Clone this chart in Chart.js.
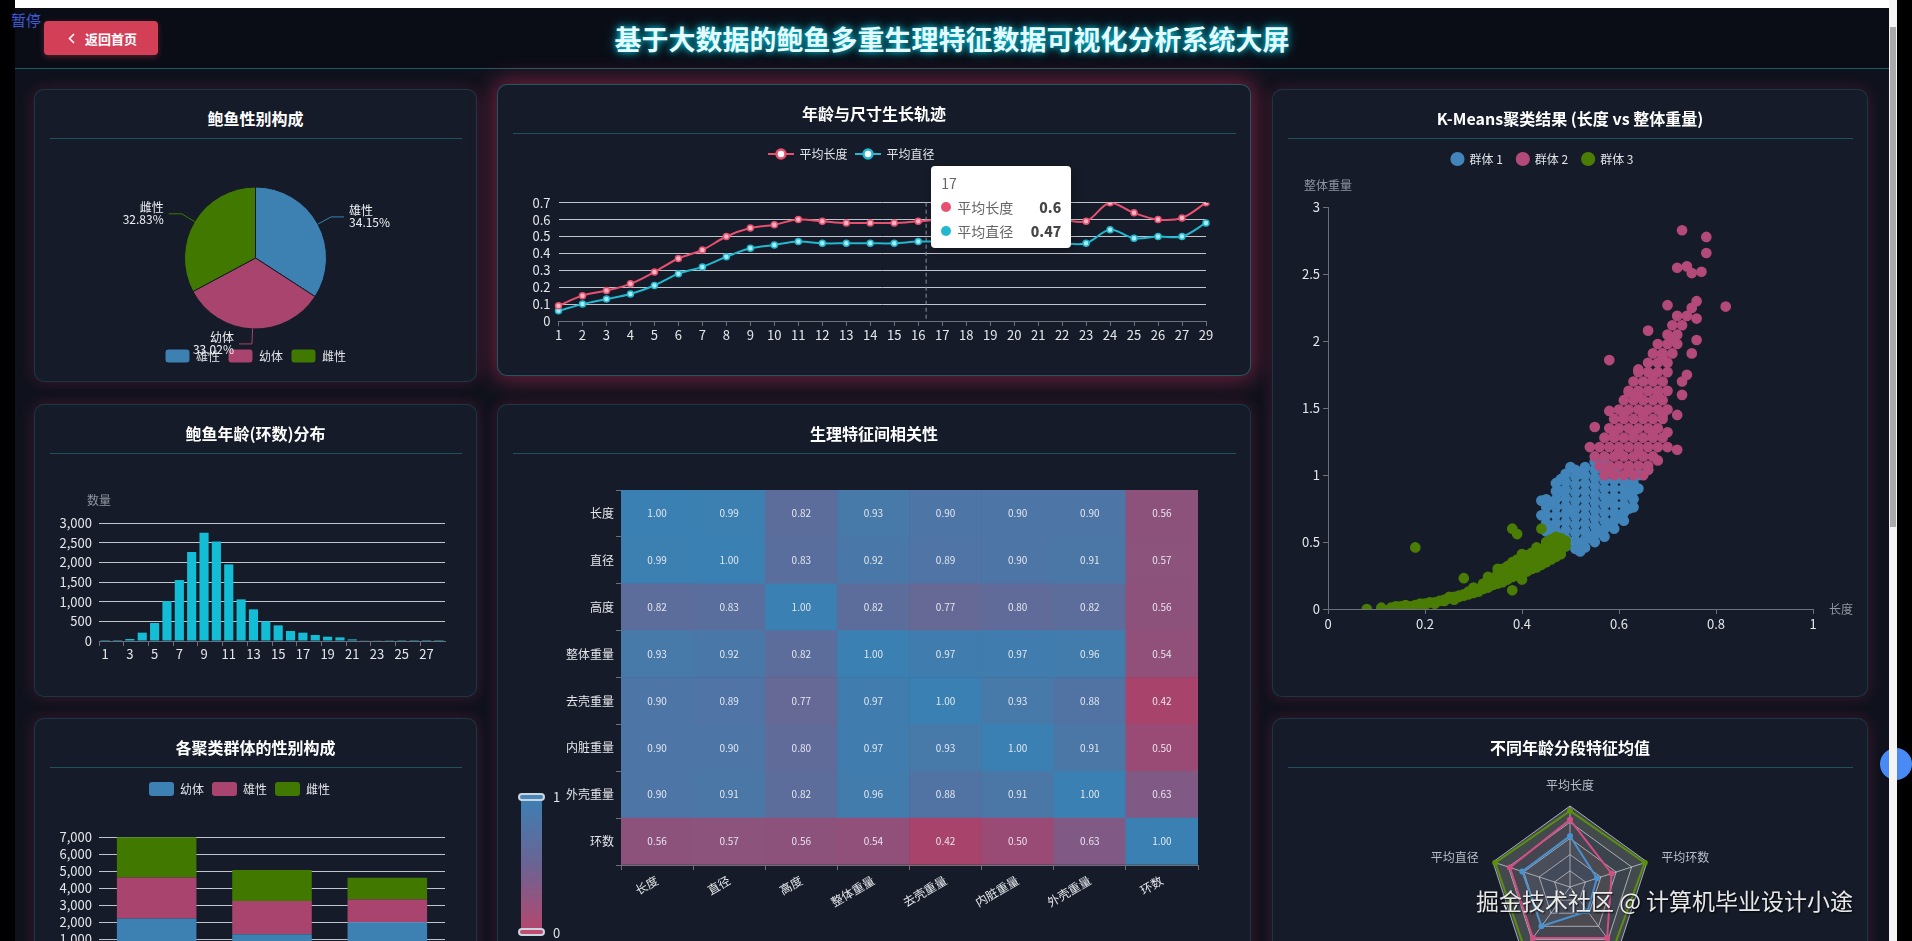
<!DOCTYPE html>
<html lang="zh-CN">
<head>
<meta charset="utf-8">
<title>基于大数据的鲍鱼多重生理特征数据可视化分析系统大屏</title>
<script src="https://cdn.jsdelivr.net/npm/chart.js"></script>
<style>
  html, body { margin: 0; padding: 0; }
  body {
    width: 1912px; height: 941px; overflow: hidden; position: relative;
    background: #000;
    font-family: "Noto Sans CJK SC", "Noto Sans", sans-serif;
  }
  #topstrip { position: absolute; left: 15px; top: 0; width: 1874px; height: 8px; background: #fff; }
  #screen { position: absolute; left: 15px; top: 8px; width: 1874px; height: 933px; background: #0f121c; }
  #header {
    position: absolute; left: 15px; top: 8px; width: 1874px; height: 60px;
    background: #0a0d16; border-bottom: 1px solid #1d5a66;
  }
  #header h1 {
    margin: 0; position: absolute; left: 0; right: 0; top: 15px;
    text-align: center; font-size: 27px; line-height: 32px; font-weight: 700;
    color: #e6fbff;
    text-shadow: 0 0 6px rgba(0, 229, 255, 0.9), 0 0 14px rgba(0, 229, 255, 0.45);
  }
  #back {
    position: absolute; left: 44px; top: 21px; width: 114px; height: 34px;
    box-sizing: border-box; padding-left: 24px;
    background: #d43f58; border-radius: 4px;
    display: flex; align-items: center; gap: 10px;
    color: #fff; font-size: 13px; font-weight: 700;
    box-shadow: 0 2px 6px rgba(212, 63, 88, 0.35);
  }
  #pause { position: absolute; left: 11px; top: 9px; color: #3b5bd6; font-size: 15px; z-index: 5; }

  .panel {
    position: absolute; box-sizing: border-box;
    background: #151b28;
    border: 1px solid rgba(70, 200, 220, 0.16);
    border-radius: 10px;
    box-shadow: 0 0 14px 1px rgba(180, 40, 95, 0.25);
  }
  .panel.hover {
    border-color: rgba(80, 220, 230, 0.3);
    box-shadow: 0 0 22px 5px rgba(225, 50, 100, 0.42);
  }
  .panel .ttl {
    position: absolute; left: 0; right: 0; top: 17px;
    text-align: center; color: #fff; font-size: 16px; font-weight: 700; line-height: 22px;
  }
  .panel .rule {
    position: absolute; left: 15px; right: 14px; top: 48px; height: 1px;
    background: rgba(45, 170, 180, 0.38);
  }
  .panel canvas { position: absolute; left: -1px; top: 49px; }

  #lineTip {
    position: absolute; width: 140px; height: 82px; box-sizing: border-box;
    background: #fff; border-radius: 4px; padding: 5px 10px 0 10px;
    box-shadow: 1px 2px 10px rgba(0, 0, 0, 0.25); z-index: 4;
    font-size: 14px; color: #666;
  }
  #lineTip .t { line-height: 24px; }
  #lineTip .row { display: flex; align-items: center; line-height: 24px; }
  #lineTip .dot { width: 10px; height: 10px; border-radius: 50%; margin-right: 6px; }
  #lineTip .v { margin-left: auto; font-weight: 900; color: #464646; }

  #vmBar {
    position: absolute; left: 521px; top: 797px; width: 21px; height: 134px;
    background: linear-gradient(to bottom, #3c80b3, #6a6494 50%, #b5476e);
  }
  .vmHandle {
    position: absolute; left: 518px; width: 27px; height: 8px; box-sizing: border-box;
    border: 2px solid #c9d6e2; border-radius: 5px;
  }
  .vmText { position: absolute; left: 553px; color: #e2e4ea; font-size: 13px; line-height: 14px; }

  #watermark {
    position: absolute; left: 1476px; top: 885px; font-size: 23px; line-height: 30px;
    color: rgba(255, 255, 255, 0.9); text-shadow: 1px 1px 2px rgba(0, 0, 0, 0.9); white-space: nowrap; z-index: 6;
  }
  #sideBtn {
    position: absolute; left: 1880px; top: 748px; width: 32px; height: 32px; border-radius: 50%;
    background: #4a8af4; z-index: 6;
  }
  #scroll { position: absolute; left: 1889px; top: 0; width: 8px; height: 941px; background: #f4f4f4; z-index: 7; }
  #thumb { position: absolute; left: 1890px; top: 27px; width: 6px; height: 500px; background: #a9a9a9; z-index: 8; }
</style>
</head>
<body>
<div id="screen"></div>
<div id="topstrip"></div>
<div id="header">
  <h1>基于大数据的鲍鱼多重生理特征数据可视化分析系统大屏</h1>
</div>
<div id="back"><svg width="7" height="11" viewBox="0 0 7 11"><polyline points="6,1 1.5,5.5 6,10" fill="none" stroke="#fff" stroke-width="1.6"/></svg><span>返回首页</span></div>
<div id="pause">暂停</div>

<div class="panel" style="left:34px; top:89px; width:443px; height:293px;">
  <div class="ttl">鲍鱼性别构成</div><div class="rule"></div>
  <canvas id="pieChart" width="443" height="243"></canvas>
</div>

<div class="panel hover" style="left:497px; top:84px; width:754px; height:292px;">
  <div class="ttl">年龄与尺寸生长轨迹</div><div class="rule"></div>
  <canvas id="lineChart" width="754" height="242"></canvas>
</div>

<div class="panel" style="left:1272px; top:89px; width:596px; height:608px;">
  <div class="ttl">K-Means聚类结果 (长度 vs 整体重量)</div><div class="rule"></div>
  <canvas id="scatterChart" width="596" height="558"></canvas>
</div>

<div class="panel" style="left:34px; top:404px; width:443px; height:293px;">
  <div class="ttl">鲍鱼年龄(环数)分布</div><div class="rule"></div>
  <canvas id="histChart" width="443" height="243"></canvas>
</div>

<div class="panel" style="left:497px; top:404px; width:754px; height:607px;">
  <div class="ttl">生理特征间相关性</div><div class="rule"></div>
  <canvas id="heatChart" width="754" height="487"></canvas>
</div>

<div class="panel" style="left:34px; top:718px; width:443px; height:293px;">
  <div class="ttl">各聚类群体的性别构成</div><div class="rule"></div>
  <canvas id="stackChart" width="443" height="243"></canvas>
</div>

<div class="panel" style="left:1272px; top:718px; width:596px; height:293px;">
  <div class="ttl">不同年龄分段特征均值</div><div class="rule"></div>
  <canvas id="radarChart" width="596" height="243"></canvas>
</div>

<div id="lineTip"></div>

<div id="vmBar"></div>
<div class="vmHandle" style="top:793px; background:#4a86b8;"></div>
<div class="vmHandle" style="top:928px; background:#c04c72;"></div>
<div class="vmText" style="top:790px;">1</div>
<div class="vmText" style="top:926px;">0</div>

<div id="watermark">掘金技术社区 @ 计算机毕业设计小途</div>
<div id="sideBtn"></div>
<div id="scroll"></div>
<div id="thumb"></div>

<script>
// ---- data ----
const ageLabels = ['1','2','3','4','5','6','7','8','9','10','11','12','13','14','15','16','17','18','19','20','21','22','23','24','25','26','27','29'];
const avgLength = [0.09,0.15,0.18,0.22,0.29,0.37,0.42,0.50,0.55,0.57,0.60,0.59,0.58,0.58,0.58,0.59,0.60,0.60,0.61,0.60,0.60,0.60,0.59,0.70,0.64,0.60,0.61,0.70];
const avgDiameter = [0.06,0.10,0.13,0.16,0.21,0.28,0.32,0.38,0.43,0.45,0.47,0.46,0.46,0.46,0.46,0.47,0.47,0.47,0.48,0.47,0.47,0.46,0.46,0.54,0.49,0.50,0.50,0.58];

const ringCounts = [1,1,51,212,457,1016,1550,2261,2753,2532,1948,1059,805,500,398,254,212,152,110,93,42,17,17,5,3,2,1,1];

const sexNames = ['雄性','幼体','雌性'];
const sexShares = [34.15, 33.02, 32.83];

const clusterNames = ['群体 1','群体 2','群体 3'];
const clusterInfant = [2200, 1280, 1980];
const clusterMale = [2420, 1960, 1340];
const clusterFemale = [2370, 1820, 1280];

const featureNames = ['长度','直径','高度','整体重量','去壳重量','内脏重量','外壳重量','环数'];
const corrMatrix = [
  [1.00,0.99,0.82,0.93,0.90,0.90,0.90,0.56],
  [0.99,1.00,0.83,0.92,0.89,0.90,0.91,0.57],
  [0.82,0.83,1.00,0.82,0.77,0.80,0.82,0.56],
  [0.93,0.92,0.82,1.00,0.97,0.97,0.96,0.54],
  [0.90,0.89,0.77,0.97,1.00,0.93,0.88,0.42],
  [0.90,0.90,0.80,0.97,0.93,1.00,0.91,0.50],
  [0.90,0.91,0.82,0.96,0.88,0.91,1.00,0.63],
  [0.56,0.57,0.56,0.54,0.42,0.50,0.63,1.00]
];

const radarAxes = ['平均长度','平均环数','平均整体重量','平均高度','平均直径'];
const radarGroups = ['幼龄组','成年组','高龄组'];
const radarYoung = [0.63,0.35,0.37,0.60,0.62];
const radarAdult = [0.83,0.54,0.78,0.78,0.78];
const radarOld = [0.94,0.97,0.92,0.95,0.97];

// [length, whole weight] pairs
const cluster1Points = [
  [0.45,0.58],[0.45,0.64],[0.45,0.70],[0.45,0.76],[0.45,0.82],
  [0.47,0.52],[0.47,0.58],[0.47,0.64],[0.47,0.70],[0.47,0.76],[0.47,0.82],[0.47,0.88],[0.47,0.94],
  [0.49,0.47],[0.49,0.53],[0.49,0.59],[0.49,0.65],[0.49,0.71],[0.49,0.77],[0.49,0.83],[0.49,0.89],[0.49,0.95],[0.49,1.01],
  [0.51,0.45],[0.51,0.51],[0.51,0.57],[0.51,0.63],[0.51,0.69],[0.51,0.75],[0.51,0.81],[0.51,0.87],[0.51,0.93],[0.51,0.99],[0.51,1.04],
  [0.53,0.46],[0.53,0.52],[0.53,0.58],[0.53,0.64],[0.53,0.70],[0.53,0.76],[0.53,0.82],[0.53,0.88],[0.53,0.94],[0.53,1.00],[0.53,1.06],
  [0.55,0.50],[0.55,0.56],[0.55,0.62],[0.55,0.68],[0.55,0.74],[0.55,0.80],[0.55,0.86],[0.55,0.92],[0.55,0.98],[0.55,1.04],[0.55,1.10],
  [0.57,0.54],[0.57,0.60],[0.57,0.66],[0.57,0.72],[0.57,0.78],[0.57,0.84],[0.57,0.90],[0.57,0.96],[0.57,1.02],[0.57,1.12],
  [0.59,0.60],[0.59,0.66],[0.59,0.72],[0.59,0.78],[0.59,0.84],[0.59,0.90],[0.59,0.96],[0.59,1.02],
  [0.61,0.66],[0.61,0.72],[0.61,0.78],[0.61,0.84],[0.61,0.90],[0.61,0.96],
  [0.63,0.76],[0.63,0.82],[0.63,0.88],[0.63,0.94],[0.63,1.00],
  [0.66,1.04],[0.64,1.00],[0.44,0.81],[0.44,0.70],[0.50,1.06],[0.62,0.85],[0.48,0.97],[0.52,0.43],
  [0.46,0.61],[0.48,0.55],[0.50,0.50],[0.52,0.49],[0.54,0.53],[0.56,0.57],[0.58,0.63],[0.60,0.69],[0.62,0.75],
  [0.46,0.79],[0.48,0.88],[0.52,1.01],[0.56,1.07],[0.60,0.99],[0.62,0.93],[0.64,0.90],[0.58,0.81],[0.50,0.74]
];
const cluster2Points = [
  [0.57,1.00],[0.59,1.00],[0.61,1.00],[0.63,1.00],[0.65,1.00],
  [0.56,1.07],[0.58,1.07],[0.60,1.07],[0.62,1.07],[0.64,1.07],[0.66,1.07],
  [0.55,1.14],[0.57,1.14],[0.59,1.14],[0.61,1.14],[0.63,1.14],[0.65,1.14],[0.67,1.14],
  [0.56,1.21],[0.58,1.21],[0.60,1.21],[0.62,1.21],[0.64,1.21],[0.66,1.21],[0.68,1.21],
  [0.57,1.28],[0.59,1.28],[0.61,1.28],[0.63,1.28],[0.65,1.28],[0.67,1.28],[0.69,1.28],
  [0.58,1.35],[0.60,1.35],[0.62,1.35],[0.64,1.35],[0.66,1.35],[0.68,1.35],
  [0.59,1.42],[0.61,1.42],[0.63,1.42],[0.65,1.42],[0.67,1.42],[0.69,1.42],
  [0.60,1.49],[0.62,1.49],[0.64,1.49],[0.66,1.49],[0.68,1.49],[0.70,1.49],
  [0.61,1.56],[0.63,1.56],[0.65,1.56],[0.67,1.56],[0.69,1.56],
  [0.62,1.63],[0.64,1.63],[0.66,1.63],[0.68,1.63],[0.70,1.63],
  [0.63,1.70],[0.65,1.70],[0.67,1.70],[0.69,1.70],
  [0.64,1.77],[0.66,1.77],[0.68,1.77],[0.70,1.77],
  [0.66,1.84],[0.68,1.84],[0.70,1.84],
  [0.67,1.91],[0.69,1.91],[0.71,1.91],
  [0.68,1.98],[0.70,1.98],[0.72,1.98],
  [0.70,2.05],[0.72,2.05],[0.71,2.12],[0.73,2.12],[0.72,2.19],[0.74,2.19],
  [0.73,2.83],[0.78,2.78],[0.78,2.66],[0.72,2.55],[0.74,2.56],[0.75,2.51],[0.77,2.52],
  [0.82,2.26],[0.76,2.30],[0.70,2.27],[0.75,2.25],[0.76,2.17],[0.66,2.08],[0.76,2.01],
  [0.58,1.86],[0.75,1.91],[0.64,1.79],[0.74,1.75],[0.62,1.62],[0.72,1.45],[0.58,1.48],
  [0.55,1.36],[0.70,1.32],[0.70,1.21],[0.72,1.19],[0.68,1.11],[0.54,1.21],[0.73,1.60],[0.73,1.70],
  [0.58,1.04],[0.62,1.04],[0.66,1.04],[0.60,1.17],[0.64,1.17],[0.59,1.31],[0.63,1.31],[0.67,1.31],
  [0.61,1.45],[0.65,1.45],[0.69,1.45],[0.64,1.60],[0.68,1.60],[0.67,1.74],[0.69,1.88],[0.71,2.02]
];
const cluster3Points = [
  [0.08,0.00],[0.11,0.01],[0.13,0.01],[0.14,0.02],[0.14,0.01],[0.15,0.02],[0.16,0.02],[0.16,0.03],
  [0.17,0.02],[0.18,0.03],[0.18,0.02],[0.19,0.04],[0.20,0.04],[0.20,0.03],[0.21,0.05],[0.22,0.05],
  [0.22,0.04],[0.23,0.06],[0.24,0.07],[0.24,0.06],[0.25,0.08],[0.25,0.09],[0.26,0.09],[0.26,0.07],
  [0.27,0.10],[0.27,0.09],[0.28,0.11],[0.28,0.10],[0.29,0.13],[0.29,0.11],[0.30,0.14],[0.30,0.12],
  [0.30,0.16],[0.31,0.15],[0.31,0.13],[0.32,0.17],[0.32,0.15],[0.32,0.19],[0.33,0.18],[0.33,0.16],
  [0.33,0.20],[0.34,0.20],[0.34,0.18],[0.34,0.23],[0.35,0.22],[0.35,0.19],[0.35,0.25],[0.35,0.27],
  [0.36,0.23],[0.36,0.20],[0.36,0.27],[0.36,0.30],[0.37,0.25],[0.37,0.22],[0.37,0.29],[0.37,0.32],
  [0.38,0.27],[0.38,0.24],[0.38,0.31],[0.38,0.35],[0.39,0.29],[0.39,0.25],[0.39,0.33],[0.39,0.37],
  [0.40,0.30],[0.40,0.27],[0.40,0.34],[0.40,0.38],[0.40,0.41],[0.41,0.32],[0.41,0.28],[0.41,0.36],
  [0.41,0.40],[0.42,0.34],[0.42,0.30],[0.42,0.38],[0.42,0.42],[0.43,0.35],[0.43,0.31],[0.43,0.39],
  [0.43,0.43],[0.43,0.46],[0.44,0.37],[0.44,0.33],[0.44,0.41],[0.44,0.45],[0.45,0.39],[0.45,0.35],
  [0.45,0.43],[0.45,0.47],[0.45,0.50],[0.46,0.41],[0.46,0.37],[0.46,0.45],[0.46,0.49],[0.46,0.52],
  [0.47,0.43],[0.47,0.39],[0.47,0.47],[0.47,0.51],[0.47,0.54],[0.48,0.45],[0.48,0.41],[0.48,0.49],
  [0.48,0.53],[0.49,0.47],[0.49,0.51],
  [0.18,0.46],[0.28,0.23],[0.38,0.60],[0.39,0.56],[0.44,0.60],[0.38,0.14],[0.35,0.30],[0.33,0.24],[0.40,0.22]
];

// ---- look ----
const FONT = '"Noto Sans CJK SC", "Noto Sans", sans-serif';
const BLUE = '#3d81b3', PINK = '#a8446e', GREEN = '#407800';
const AXIS = '#6e7079';
const SPLIT = 'rgba(222,226,234,0.85)';

Chart.defaults.font.family = FONT;
Chart.defaults.font.size = 12;
Chart.defaults.color = '#e4e6eb';
Chart.defaults.animation = false;
Chart.defaults.responsive = false;
Chart.defaults.locale = 'en-US';
Chart.defaults.plugins.tooltip.enabled = false;
Chart.defaults.plugins.legend.display = false;

// legend sits higher than the plot, ECharts style
const legendGap = {
  id: 'legendGap',
  afterInit(chart, args, opts) {
    const legend = chart.legend;
    if (!legend) return;
    const fit = legend.fit;
    legend.fit = function () {
      fit.call(this);
      this.height += opts.extra || 0;
    };
  }
};

const axisNames = {
  id: 'axisNames',
  afterDraw(chart, args, opts) {
    const { ctx, chartArea } = chart;
    ctx.save();
    ctx.font = '12px ' + FONT;
    ctx.fillStyle = '#8f95a0';
    ctx.textBaseline = 'middle';
    if (opts.y) {
      ctx.textAlign = 'center';
      ctx.fillText(opts.y, chartArea.left, chartArea.top - opts.yGap);
    }
    if (opts.x) {
      ctx.textAlign = 'left';
      ctx.fillText(opts.x, chartArea.right + opts.xGap, chartArea.bottom);
    }
    ctx.restore();
  }
};

const pieCallouts = {
  id: 'pieCallouts',
  afterDatasetsDraw(chart) {
    const ctx = chart.ctx;
    const meta = chart.getDatasetMeta(0);
    const ds = chart.data.datasets[0];
    ctx.save();
    ctx.font = '12px ' + FONT;
    ctx.textBaseline = 'middle';
    meta.data.forEach((arc, i) => {
      const mid = (arc.startAngle + arc.endAngle) / 2;
      const dx = Math.cos(mid), dy = Math.sin(mid);
      const r = arc.outerRadius;
      const x0 = arc.x + dx * r, y0 = arc.y + dy * r;
      const x1 = arc.x + dx * (r + 15), y1 = arc.y + dy * (r + 15);
      const side = dx >= 0 ? 1 : -1;
      const x2 = x1 + side * 13;
      ctx.strokeStyle = ds.backgroundColor[i];
      ctx.lineWidth = 1;
      ctx.beginPath();
      ctx.moveTo(x0, y0); ctx.lineTo(x1, y1); ctx.lineTo(x2, y1);
      ctx.stroke();
      ctx.fillStyle = '#eef0f4';
      ctx.textAlign = side > 0 ? 'left' : 'right';
      const tx = x2 + side * 5;
      ctx.fillText(chart.data.labels[i], tx, y1 - 6);
      ctx.fillText(ds.data[i].toFixed(2) + '%', tx, y1 + 6);
    });
    ctx.restore();
  }
};

const hoverPointer = {
  id: 'hoverPointer',
  beforeDatasetsDraw(chart, args, opts) {
    const { ctx, chartArea } = chart;
    const x = chart.scales.x.getPixelForValue(opts.at);
    ctx.save();
    ctx.strokeStyle = '#8c93a0';
    ctx.lineWidth = 1;
    ctx.setLineDash([4, 3]);
    ctx.beginPath();
    ctx.moveTo(x, chartArea.top);
    ctx.lineTo(x, chartArea.bottom);
    ctx.stroke();
    ctx.restore();
  }
};

const heatLabels = {
  id: 'heatLabels',
  afterDatasetsDraw(chart) {
    const ctx = chart.ctx;
    ctx.save();
    ctx.font = '10px ' + FONT;
    ctx.fillStyle = 'rgba(240,241,246,0.92)';
    ctx.textAlign = 'center';
    ctx.textBaseline = 'middle';
    chart.data.datasets.forEach((ds, j) => {
      chart.getDatasetMeta(j).data.forEach((bar, i) => {
        ctx.fillText(ds.corr[i].toFixed(2), bar.x, (bar.y + bar.base) / 2);
      });
    });
    ctx.restore();
  }
};

const radarBands = {
  id: 'radarBands',
  beforeDraw(chart) {
    const s = chart.scales.r;
    const ctx = chart.ctx;
    const n = chart.data.labels.length;
    const cols = ['rgba(250,250,250,0.2)', 'rgba(210,219,238,0.2)'];
    const poly = (r) => {
      for (let i = 0; i < n; i++) {
        const p = s.getPointPosition(i, r);
        if (i === 0) ctx.moveTo(p.x, p.y); else ctx.lineTo(p.x, p.y);
      }
      ctx.closePath();
    };
    ctx.save();
    for (let k = 1; k <= 5; k++) {
      ctx.beginPath();
      poly(s.getDistanceFromCenterForValue(k / 5));
      poly(s.getDistanceFromCenterForValue((k - 1) / 5));
      ctx.fillStyle = cols[(k - 1) % 2];
      ctx.fill('evenodd');
    }
    ctx.restore();
  },
  afterDraw(chart) {
    const s = chart.scales.r;
    const ctx = chart.ctx;
    ctx.save();
    ctx.font = '12px ' + FONT;
    ctx.fillStyle = '#b9bec8';
    chart.data.labels.forEach((lab, i) => {
      const p = s.getPointPosition(i, s.drawingArea + 15);
      const dx = p.x - s.xCenter, dy = p.y - s.yCenter;
      const centred = Math.abs(dx) < 1;
      ctx.textAlign = centred ? 'center' : (dx < 0 ? 'right' : 'left');
      ctx.textBaseline = centred ? (dy < 0 ? 'bottom' : 'top') : 'middle';
      ctx.fillText(lab, p.x, p.y);
    });
    ctx.restore();
  }
};

function heatColor(v) {
  const t = Math.max(0, Math.min(1, (v - 0.42) / 0.58));
  const a = [168, 67, 107], b = [58, 128, 178];
  const c = a.map((x, i) => Math.round(x + (b[i] - x) * t));
  return `rgb(${c[0]},${c[1]},${c[2]})`;
}

function lineIcon(color) {
  const c = document.createElement('canvas');
  c.width = 26; c.height = 14;
  const g = c.getContext('2d');
  g.strokeStyle = color;
  g.lineWidth = 2;
  g.beginPath(); g.moveTo(0, 7); g.lineTo(26, 7); g.stroke();
  g.beginPath(); g.arc(13, 7, 4.5, 0, Math.PI * 2);
  g.fillStyle = '#fff'; g.fill();
  g.lineWidth = 2.5; g.stroke();
  return c;
}

const plainNum = (v) => String(Math.round(v * 100) / 100);

const catX = (extra) => Object.assign({
  grid: { drawOnChartArea: false, tickLength: 5, color: AXIS },
  border: { color: AXIS },
  ticks: { autoSkip: false, maxRotation: 0, font: { size: 13 }, padding: 1 }
}, extra);

// ---- pie ----
new Chart(document.getElementById('pieChart'), {
  type: 'pie',
  data: {
    labels: sexNames,
    datasets: [{
      data: sexShares,
      backgroundColor: [BLUE, PINK, GREEN],
      borderColor: '#151b28',
      borderWidth: 1
    }]
  },
  options: {
    radius: 71,
    layout: { padding: { top: 36, bottom: 9 } },
    plugins: {
      legend: {
        display: true,
        position: 'bottom',
        labels: {
          boxWidth: 25, boxHeight: 14, padding: 8,
          useBorderRadius: true, borderRadius: 3,
          color: '#e2e4ea', font: { size: 12 }
        }
      }
    }
  },
  plugins: [pieCallouts]
});

// ---- growth lines ----
const lineIcons = [lineIcon('#e8506f'), lineIcon('#22b8cf')];
const tipIndex = ageLabels.indexOf('17');
const lineChart = new Chart(document.getElementById('lineChart'), {
  type: 'line',
  data: {
    labels: ageLabels,
    datasets: [
      {
        label: '平均长度', data: avgLength,
        borderColor: '#e8506f', backgroundColor: '#e8506f', borderWidth: 2, tension: 0.35,
        pointRadius: 3, pointBorderWidth: 1.5, pointBackgroundColor: '#f6b5c3', pointBorderColor: '#e8506f'
      },
      {
        label: '平均直径', data: avgDiameter,
        borderColor: '#22b8cf', backgroundColor: '#22b8cf', borderWidth: 2, tension: 0.35,
        pointRadius: 3, pointBorderWidth: 1.5, pointBackgroundColor: '#a6ecf5', pointBorderColor: '#22b8cf'
      }
    ]
  },
  options: {
    layout: { padding: { top: 6, right: 45, left: 0, bottom: 0 } },
    scales: {
      x: catX({ afterFit: (s) => { s.height = 55; } }),
      y: {
        min: 0, max: 0.7,
        ticks: { stepSize: 0.1, autoSkip: false, padding: 8, font: { size: 13 }, callback: plainNum },
        grid: { color: SPLIT, drawTicks: false },
        border: { display: false },
        afterFit: (s) => { s.width = 61.5; }
      }
    },
    plugins: {
      legend: {
        display: true,
        labels: {
          usePointStyle: true, pointStyleWidth: 25, padding: 8,
          color: '#e2e4ea', font: { size: 12 },
          generateLabels(chart) {
            const items = Chart.defaults.plugins.legend.labels.generateLabels(chart);
            items.forEach((it, i) => { it.pointStyle = lineIcons[i]; });
            return items;
          }
        }
      },
      legendGap: { extra: 32.7 },
      hoverPointer: { at: tipIndex - 0.67 }
    }
  },
  plugins: [legendGap, hoverPointer]
});

// tooltip frozen on age 17, as in the capture
(function () {
  const tip = document.getElementById('lineTip');
  const rect = document.getElementById('lineChart').getBoundingClientRect();
  const x = lineChart.scales.x.getPixelForValue(tipIndex);
  tip.style.left = (rect.left + x - 11) + 'px';
  tip.style.top = (rect.top + lineChart.chartArea.top - 37) + 'px';
  let html = '<div class="t">' + ageLabels[tipIndex] + '</div>';
  lineChart.data.datasets.forEach((ds) => {
    html += '<div class="row"><span class="dot" style="background:' + ds.borderColor + '"></span>' +
      '<span>' + ds.label + '</span><span class="v">' + ds.data[tipIndex] + '</span></div>';
  });
  tip.innerHTML = html;
})();

// ---- K-Means scatter ----
const toXY = (pts) => pts.map(p => ({ x: p[0], y: p[1] }));
const dot = (color, order) => ({
  backgroundColor: color, borderColor: color, borderWidth: 1.5, pointRadius: 4.6, order
});
new Chart(document.getElementById('scatterChart'), {
  type: 'scatter',
  data: {
    datasets: [
      Object.assign({ label: clusterNames[0], data: toXY(cluster1Points) }, dot('#4285ba', 3)),
      Object.assign({ label: clusterNames[1], data: toXY(cluster2Points) }, dot('#b44a7a', 2)),
      Object.assign({ label: clusterNames[2], data: toXY(cluster3Points) }, dot('#4b7d05', 1))
    ]
  },
  options: {
    layout: { padding: { top: 0, right: 55, left: 0, bottom: 0 } },
    scales: {
      x: {
        type: 'linear', min: 0, max: 1,
        ticks: { stepSize: 0.2, padding: 2, font: { size: 13 }, callback: plainNum },
        grid: { drawOnChartArea: false, tickLength: 5, color: AXIS },
        border: { color: AXIS },
        afterFit: (s) => { s.height = 88; }
      },
      y: {
        min: 0, max: 3,
        ticks: { stepSize: 0.5, autoSkip: false, padding: 3, font: { size: 13 }, callback: plainNum },
        grid: { drawOnChartArea: false, tickLength: 5, color: AXIS },
        border: { color: AXIS },
        afterFit: (s) => { s.width = 56; }
      }
    },
    plugins: {
      legend: {
        display: true,
        labels: {
          usePointStyle: true, pointStyle: 'circle', boxHeight: 9, padding: 14,
          color: '#e2e4ea', font: { size: 12 },
          sort: (a, b) => a.datasetIndex - b.datasetIndex
        }
      },
      legendGap: { extra: 32.5 },
      axisNames: { y: '整体重量', yGap: 22.5, x: '长度', xGap: 16 }
    }
  },
  plugins: [legendGap, axisNames]
});

// ---- ring histogram ----
new Chart(document.getElementById('histChart'), {
  type: 'bar',
  data: {
    labels: ageLabels,
    datasets: [{ label: '数量', data: ringCounts, backgroundColor: '#13bdd5', barPercentage: 0.74, categoryPercentage: 1 }]
  },
  options: {
    layout: { padding: { top: 69, right: 32, left: 0, bottom: 0 } },
    scales: {
      x: catX({
        grid: {
          drawOnChartArea: false, tickLength: 5, offset: true,
          color: (c) => (c.index % 2 === 0 ? AXIS : 'rgba(0,0,0,0)')
        },
        ticks: {
          autoSkip: false, maxRotation: 0, font: { size: 13 }, padding: 0,
          callback: (v, i) => (i % 2 === 0 ? ageLabels[i] : '')
        },
        afterFit: (s) => { s.height = 56; }
      }),
      y: {
        min: 0, max: 3000,
        ticks: { stepSize: 500, autoSkip: false, padding: 7, font: { size: 13 } },
        grid: { color: SPLIT, drawTicks: false },
        border: { display: false },
        afterFit: (s) => { s.width = 65; }
      }
    },
    plugins: { axisNames: { y: '数量', yGap: 23 } }
  },
  plugins: [axisNames]
});

// ---- correlation heatmap (stacked unit cells) ----
const heatRows = featureNames.map((_, k) => featureNames.length - 1 - k);
new Chart(document.getElementById('heatChart'), {
  type: 'bar',
  data: {
    labels: featureNames,
    datasets: heatRows.map((r) => ({
      label: featureNames[r],
      data: featureNames.map(() => 1),
      corr: corrMatrix[r],
      backgroundColor: corrMatrix[r].map(heatColor),
      borderWidth: 0,
      barPercentage: 1,
      categoryPercentage: 1
    }))
  },
  options: {
    layout: { padding: { top: 36, right: 53, left: 0, bottom: 0 } },
    scales: {
      x: {
        stacked: true,
        grid: { drawOnChartArea: false, tickLength: 5, color: AXIS, offset: true },
        border: { color: AXIS },
        ticks: { autoSkip: false, minRotation: 30, maxRotation: 30, padding: 3, font: { size: 12 } },
        afterFit: (s) => { s.height = 76; }
      },
      y: {
        stacked: true, min: 0, max: 8,
        grid: { drawOnChartArea: false, tickLength: 5, color: AXIS },
        border: { color: AXIS },
        ticks: {
          stepSize: 1, autoSkip: false, padding: 2, labelOffset: -23.4, font: { size: 12 },
          callback: (v) => (v < featureNames.length ? featureNames[featureNames.length - 1 - v] : '')
        },
        afterFit: (s) => { s.width = 124; }
      }
    }
  },
  plugins: [heatLabels]
});

// ---- sex mix per cluster ----
new Chart(document.getElementById('stackChart'), {
  type: 'bar',
  data: {
    labels: clusterNames,
    datasets: [
      { label: '幼体', data: clusterInfant, backgroundColor: BLUE },
      { label: '雄性', data: clusterMale, backgroundColor: PINK },
      { label: '雌性', data: clusterFemale, backgroundColor: GREEN }
    ]
  },
  options: {
    datasets: { bar: { barPercentage: 0.69, categoryPercentage: 1 } },
    layout: { padding: { top: 6, right: 32, left: 0, bottom: 0 } },
    scales: {
      x: catX({ stacked: true, afterFit: (s) => { s.height = 55; } }),
      y: {
        stacked: true, min: 0, max: 7000,
        ticks: { stepSize: 1000, autoSkip: false, padding: 7, font: { size: 13 } },
        grid: { color: SPLIT, drawTicks: false },
        border: { display: false },
        afterFit: (s) => { s.width = 65; }
      }
    },
    plugins: {
      legend: {
        display: true,
        labels: {
          boxWidth: 25, boxHeight: 14, padding: 8,
          useBorderRadius: true, borderRadius: 3,
          color: '#e2e4ea', font: { size: 12 }
        }
      },
      legendGap: { extra: 31 }
    }
  },
  plugins: [legendGap]
});

// ---- radar by age band ----
new Chart(document.getElementById('radarChart'), {
  type: 'radar',
  data: {
    labels: radarAxes,
    datasets: [
      { label: radarGroups[0], data: radarYoung, borderColor: '#4a91cf', backgroundColor: 'rgba(74,145,207,0.08)', pointBackgroundColor: '#4a91cf' },
      { label: radarGroups[1], data: radarAdult, borderColor: '#d24f85', backgroundColor: 'rgba(210,79,133,0.06)', pointBackgroundColor: '#d24f85' },
      { label: radarGroups[2], data: radarOld, borderColor: '#5a900c', backgroundColor: 'rgba(90,144,12,0.05)', pointBackgroundColor: '#5a900c' }
    ]
  },
  options: {
    elements: { line: { borderWidth: 2, fill: true }, point: { radius: 3, borderWidth: 0 } },
    layout: { padding: { top: 37.5, bottom: 42.5, left: 0, right: 0 } },
    scales: {
      r: {
        min: 0, max: 1,
        ticks: { display: false, stepSize: 0.2 },
        pointLabels: { display: false },
        grid: { color: 'rgba(220,225,235,0.7)' },
        angleLines: { color: 'rgba(220,225,235,0.7)' }
      }
    }
  },
  plugins: [radarBands]
});
</script>
</body>
</html>
